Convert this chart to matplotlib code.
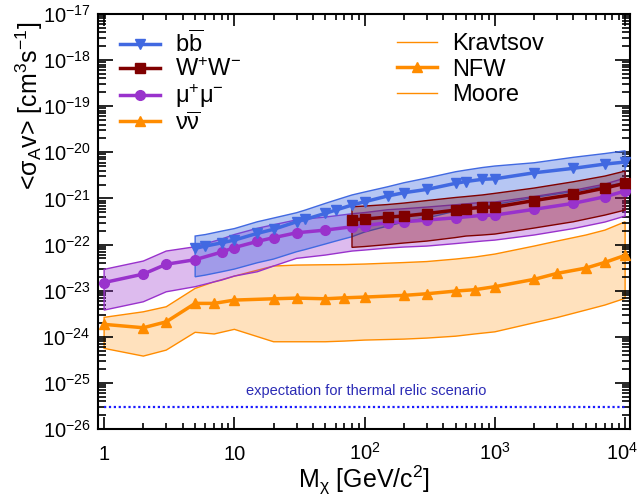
import numpy as np
import matplotlib
matplotlib.use('Agg')
import matplotlib.pyplot as plt
import matplotlib.ticker as ticker
import matplotlib.transforms as mtransforms
from matplotlib.colors import to_rgba

plt.rcParams['font.family'] = ['Liberation Sans', 'DejaVu Sans']
plt.rcParams['mathtext.fontset'] = 'custom'
plt.rcParams['mathtext.rm'] = 'Liberation Sans'
plt.rcParams['mathtext.it'] = 'Liberation Sans:italic'
plt.rcParams['mathtext.bf'] = 'Liberation Sans:bold'

# b bbar channel
m_bb = [5, 6, 8, 10, 15, 20, 30, 35, 50, 60, 80, 100, 150, 200, 300, 500, 600, 800, 1000, 2000, 4000, 7000, 10000]
sv_bb = [8.28e-23, 9.27e-23, 1.09e-22, 1.25e-22, 1.75e-22, 2.14e-22, 3.12e-22, 3.52e-22, 4.75e-22, 5.6e-22,
         7.19e-22, 8.48e-22, 1.13e-21, 1.33e-21, 1.57e-21, 2.13e-21, 2.33e-21, 2.6e-21, 2.67e-21, 3.6e-21,
         4.5e-21, 5.57e-21, 6.16e-21]
hi_bb = [1.53e-22, 1.65e-22, 1.96e-22, 2.22e-22, 3.12e-22, 3.76e-22, 4.9e-22, 5.6e-22, 7.83e-22, 9.23e-22,
         1.19e-21, 1.38e-21, 1.79e-21, 2.19e-21, 2.77e-21, 3.8e-21, 4.13e-21, 4.68e-21, 5.05e-21, 5.94e-21,
         7.8e-21, 9.42e-21, 1.08e-20]
lo_bb = [2.0e-23, 2.18e-23, 2.57e-23, 2.94e-23, 4.03e-23, 4.85e-23, 6.98e-23, 7.8e-23, 1.03e-22, 1.19e-22,
         1.48e-22, 1.87e-22, 2.52e-22, 3.08e-22, 3.76e-22, 5.33e-22, 5.89e-22, 6.84e-22, 7.38e-22, 1.05e-21,
         1.41e-21, 1.86e-21, 2.16e-21]

# W+W- channel
m_ww = [80, 100, 150, 200, 300, 500, 600, 800, 1000, 2000, 4000, 7000, 10000]
sv_ww = [3.45e-22, 3.57e-22, 3.95e-22, 4.15e-22, 4.7e-22, 5.6e-22, 5.98e-22, 6.41e-22, 6.5e-22, 9.0e-22,
         1.22e-21, 1.68e-21, 2.13e-21]
hi_ww = [6.6e-22, 6.84e-22, 7.38e-22, 7.94e-22, 9.0e-22, 1.05e-21, 1.1e-21, 1.19e-21, 1.29e-21, 1.68e-21,
         2.3e-21, 3.06e-21, 3.93e-21]
lo_ww = [8.7e-23, 9.06e-23, 1.0e-22, 1.08e-22, 1.19e-22, 1.42e-22, 1.53e-22, 1.61e-22, 1.69e-22, 2.28e-22,
         3.12e-22, 4.36e-22, 5.6e-22]

# mu+mu- channel
m_mm = [1, 2, 3, 5, 8, 10, 15, 20, 30, 50, 80, 100, 150, 200, 300, 500, 800, 1000, 2000, 4000, 7000, 10000]
sv_mm = [1.5e-23, 2.29e-23, 3.74e-23, 4.7e-23, 6.88e-23, 8.61e-23, 1.17e-22, 1.41e-22, 1.8e-22, 2.06e-22,
         2.43e-22, 2.58e-22, 2.97e-22, 3.12e-22, 3.4e-22, 3.81e-22, 4.3e-22, 4.36e-22, 5.81e-22, 7.83e-22,
         1.09e-21, 1.45e-21]
hi_mm = [2.9e-23, 4.39e-23, 7.23e-23, 8.96e-23, 1.32e-22, 1.65e-22, 2.25e-22, 2.69e-22, 3.43e-22, 3.95e-22,
         4.66e-22, 4.94e-22, 5.69e-22, 5.98e-22, 6.5e-22, 7.3e-22, 8.22e-22, 8.35e-22, 1.1e-21, 1.5e-21,
         2.05e-21, 2.77e-21]
lo_mm = [3.79e-24, 5.74e-24, 9.46e-24, 1.22e-23, 1.7e-23, 2.07e-23, 2.57e-23, 3.42e-23, 5.02e-23, 5.92e-23,
         7.23e-23, 7.6e-23, 8.4e-23, 8.83e-23, 9.27e-23, 1.05e-22, 1.19e-22, 1.25e-22, 1.61e-22, 2.22e-22,
         3.08e-22, 4.15e-22]

# nu nubar channel: NFW, Kravtsov (upper edge), Moore (lower edge)
m_nn = [1, 2, 3, 5, 7, 10, 20, 30, 50, 70, 100, 200, 300, 500, 700, 1000, 2000, 3000, 5000, 7000, 10000]
sv_nn = [1.86e-24, 1.57e-24, 2.11e-24, 5.3e-24, 5.3e-24, 6.25e-24, 6.67e-24, 6.9e-24, 6.67e-24, 7.0e-24,
         7.26e-24, 7.9e-24, 8.57e-24, 9.8e-24, 1.05e-23, 1.22e-23, 1.76e-23, 2.37e-23, 3.09e-23, 4.11e-23,
         5.83e-23]
hi_nn = [2.64e-24, 3.48e-24, 4.48e-24, 1.12e-23, 1.56e-23, 2.07e-23, 3.42e-23, 3.59e-23, 3.65e-23, 3.68e-23,
         3.78e-23, 4.07e-23, 4.28e-23, 4.85e-23, 5.36e-23, 6.22e-23, 9.27e-23, 1.19e-22, 1.61e-22, 2.06e-22,
         3.12e-22]
lo_nn = [5.6e-25, 3.81e-25, 5.14e-25, 1.25e-24, 1.15e-24, 1.45e-24, 7.8e-25, 7.8e-25, 7.8e-25, 8.07e-25,
         8.48e-25, 8.9e-25, 9.37e-25, 1.03e-24, 1.15e-24, 1.28e-24, 2.01e-24, 2.61e-24, 3.8e-24, 4.88e-24,
         6.81e-24]

thermal_sv = 3e-26
thermal_m = [1, 10000]

x_ticks = [1, 10, 100, 1000, 10000]
x_ticklabels = ['1', '10', '$10^{2}$', '$10^{3}$', '$10^{4}$']
y_ticks = [10.0 ** e for e in range(-26, -16)]
y_ticklabels = ['$10^{%d}$' % e for e in range(-26, -16)]

c_bb = '#4169e1'
c_ww = '#800000'
c_mm = '#9932cc'
c_nn = '#ff8c00'

fig = plt.figure(figsize=(6.39, 4.99), dpi=100)
ax = fig.add_axes([0.1526, 0.1403, 0.8333, 0.8316])


def band(m, lo, hi, c, a, z):
    xs = np.concatenate([m, m[::-1]])
    ys = np.concatenate([hi, lo[::-1]])
    ax.fill(xs, ys, facecolor=to_rgba(c, a), edgecolor=c, lw=1, zorder=z)


m_bb, m_ww, m_mm, m_nn = map(np.array, (m_bb, m_ww, m_mm, m_nn))
band(m_nn, np.array(lo_nn), np.array(hi_nn), c_nn, 0.26, 1)
band(m_mm, np.array(lo_mm), np.array(hi_mm), c_mm, 0.33, 2)
band(m_bb, np.array(lo_bb), np.array(hi_bb), c_bb, 0.38, 3)
band(m_ww, np.array(lo_ww), np.array(hi_ww), c_ww, 0.32, 4)

h_bb, = ax.plot(m_bb, sv_bb, color=c_bb, lw=2.5, marker='v', ms=7, zorder=8)
h_ww, = ax.plot(m_ww, sv_ww, color=c_ww, lw=2.5, marker='s', ms=6.5, zorder=8)
h_mm, = ax.plot(m_mm, sv_mm, color=c_mm, lw=2.5, marker='o', ms=7, zorder=7)
h_nn, = ax.plot(m_nn, sv_nn, color=c_nn, lw=2.5, marker='^', ms=7, zorder=7)
h_kr, = ax.plot([], [], color=c_nn, lw=1)
h_mo, = ax.plot([], [], color=c_nn, lw=1)

ax.plot(thermal_m, [thermal_sv, thermal_sv], color='#1a1aff', lw=1.6, ls=(0, (1, 1.2)), zorder=6)
ax.text(103, 6.6e-26, 'expectation for thermal relic scenario', color='#2b2bb5',
        fontsize=10.5, ha='center', va='center')

ax.set_xscale('log')
ax.set_yscale('log')
ax.set_xlim(0.89, 1.09e4)
ax.set_ylim(1e-26, 1e-17)
ax.set_xticks(x_ticks, x_ticklabels)
ax.set_yticks(y_ticks, y_ticklabels)
ax.yaxis.set_minor_locator(ticker.LogLocator(base=10, subs=np.arange(2, 10), numticks=100))
ax.yaxis.set_minor_formatter(ticker.NullFormatter())
ax.xaxis.set_minor_locator(ticker.LogLocator(base=10, subs=np.arange(2, 10), numticks=100))
ax.xaxis.set_minor_formatter(ticker.NullFormatter())

ax.tick_params(axis='both', which='both', direction='in', top=True, right=True, width=1.2)
ax.tick_params(axis='x', which='major', length=8.5, labelsize=14.5, pad=22)
ax.tick_params(axis='x', which='minor', length=4.2)
ax.tick_params(axis='y', which='major', length=10.8, labelsize=14.5, pad=5)
ax.tick_params(axis='y', which='minor', length=5.5)
xlabs = ax.get_xticklabels()
for lab in xlabs:
    lab.set_va('baseline')
xlabs[-1].set_transform(xlabs[-1].get_transform() +
                        mtransforms.ScaledTranslation(-3 / 100, 0, fig.dpi_scale_trans))
for s in ax.spines.values():
    s.set_linewidth(1.5)

fig.text(364 / 639, 1 - 488 / 499, 'M$_{\\mathrm{\u03c7}}$ [GeV/c$^{2}$]', fontsize=18,
         ha='center', va='baseline')
fig.text(29 / 639, 1 - 22 / 499, '<\u03c3$_{\\mathrm{A}}$v> [cm$^{3}$s$^{-1}$]', fontsize=18,
         rotation=90, ha='center', va='top')

leg1 = ax.legend([h_bb, h_ww, h_mm, h_nn],
                 ['b$\\overline{\\mathrm{b}}$', 'W$^{+}$W$^{-}$', '\u03bc$^{+}$\u03bc$^{-}$',
                  '\u03bd$\\overline{\\mathrm{\u03bd}}$'],
                 loc='upper left', bbox_to_anchor=(120 / 639, 1 - 30 / 499), bbox_transform=fig.transFigure,
                 frameon=False, fontsize=17, borderpad=0, borderaxespad=0, handlelength=1.7,
                 handletextpad=0.64, labelspacing=0.06)
ax.add_artist(leg1)
ax.legend([h_kr, h_nn, h_mo], ['Kravtsov', 'NFW', 'Moore'],
          loc='upper left', bbox_to_anchor=(397 / 639, 1 - 33 / 499), bbox_transform=fig.transFigure,
          frameon=False, fontsize=17, borderpad=0, borderaxespad=0, handlelength=1.7,
          handletextpad=0.64, labelspacing=0.15)

fig.savefig('out.png', dpi=100)
